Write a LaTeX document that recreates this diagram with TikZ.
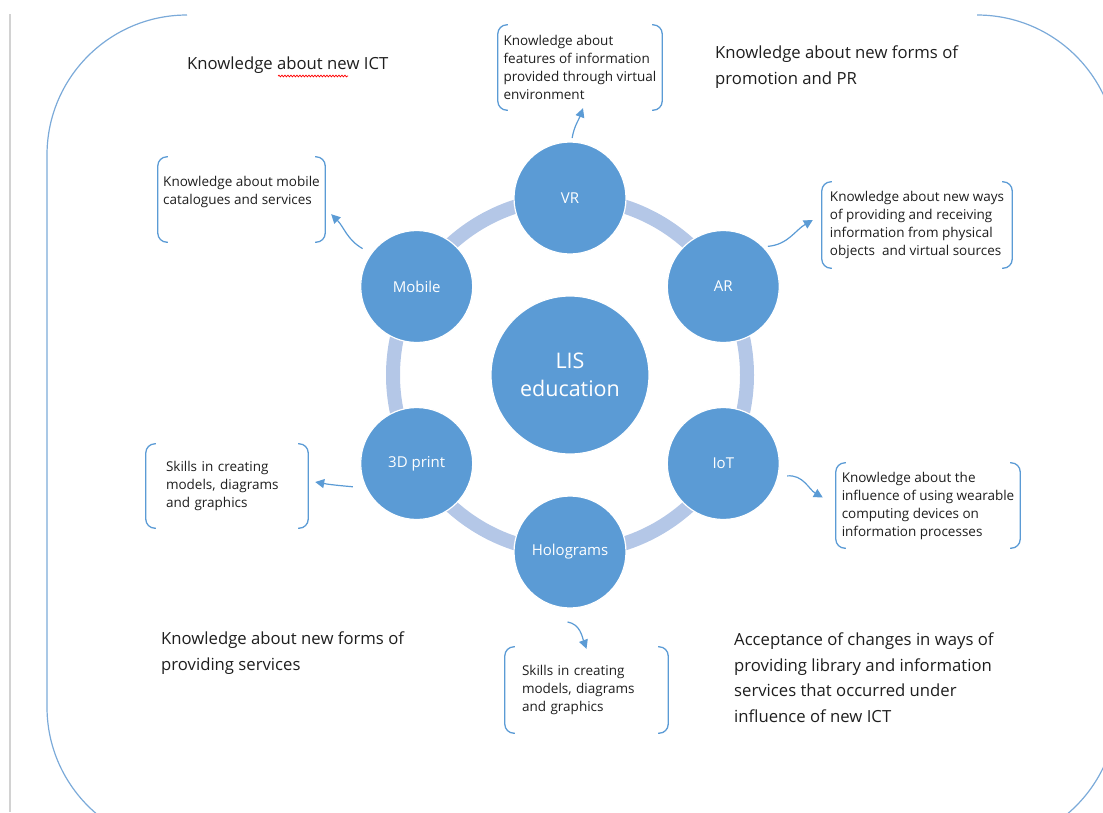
\documentclass[tikz,border=0pt]{standalone}
\usepackage{fontspec}
\setmainfont{Open Sans}
\usetikzlibrary{arrows.meta,calc,decorations.pathmorphing}
\definecolor{officeblue}{HTML}{5B9BD5}
\definecolor{ringblue}{HTML}{B4C7E7}
\definecolor{frameblue}{HTML}{7BAAD9}
\definecolor{txt}{HTML}{1E1E1E}

\begin{document}
\begin{tikzpicture}[x=1pt,y=1pt,
    hub/.style={circle,fill=officeblue,draw=white,line width=1.2pt,text=white,
      minimum size=158pt,inner sep=0pt,align=center,font=\fontsize{21.5}{28}\selectfont},
    sat/.style={circle,fill=officeblue,draw=white,line width=1.2pt,text=white,
      minimum size=112pt,inner sep=0pt,font=\fontsize{15}{18}\selectfont},
    infobox/.style={inner sep=0pt,align=left,text=txt,font=\fontsize{13.5}{18}\selectfont},
    bigtext/.style={inner sep=0pt,anchor=north west,align=left,text=txt,
      font=\fontsize{16.7}{25.5}\selectfont},
    bracket/.style={draw=officeblue,line width=1.3pt,rounded corners=9pt},
    link/.style={draw=officeblue,line width=1.2pt,-{Triangle[length=9pt,width=9pt]}}]
  \useasboundingbox (0,0) rectangle (1103,-812);
  \clip (0,0) rectangle (1103,-812);
  % page edge and frame
  \draw[gray!35,line width=1.5pt] (10,-14) -- (10,-812);
  \draw[frameblue,line width=1.2pt] (187,-15) arc[start angle=90,end angle=180,radius=140]
    -- (47,-707) arc[start angle=180,end angle=270,radius=140];
  \draw[frameblue,line width=1.2pt] (977,-15) arc[start angle=90,end angle=0,radius=140]
    -- (1117,-707) arc[start angle=0,end angle=-90,radius=140];
  % centre, ring and satellites
  \node[hub] (lis) at (570,-375) {LIS\\education};
  \draw[ringblue,line width=14pt] (lis.center) circle[radius=177];
  \foreach \a/\n/\t in {90/vr/VR,30/ar/AR,-30/iot/IoT,-90/holo/Holograms,
      -150/print/3D print,150/mobile/Mobile}
    \node[sat] (\n) at ($(lis)+(\a:177)$) {\t};
  % knowledge boxes
  \node[infobox,minimum width=164pt,minimum height=85pt] (vrinfo) at (580,-67.5)
    {Knowledge about\\features of information\\provided through virtual\\environment};
  \node[infobox,minimum width=167pt,minimum height=85pt] (mobinfo) at (241.5,-199.5)
    {Knowledge about mobile\\catalogues and services\\\mbox{}};
  \node[infobox,minimum width=190pt,minimum height=86pt] (arinfo) at (917,-225)
    {Knowledge about new ways\\of providing and receiving\\information from physical\\objects~ and virtual sources};
  \node[infobox,minimum width=162pt,minimum height=84pt,text width=122pt,inner xsep=20pt]
    (printinfo) at (227,-486) {Skills in creating\\models, diagrams\\and graphics};
  \node[infobox,minimum width=184pt,minimum height=85pt] (iotinfo) at (928,-505.5)
    {Knowledge about the\\influence of using wearable\\computing devices on\\information processes};
  \node[infobox,minimum width=163pt,minimum height=86pt,text width=129pt,inner xsep=17pt]
    (holoinfo) at (586.5,-690) {Skills in creating\\models, diagrams\\and graphics};
  \foreach \b in {vrinfo,mobinfo,arinfo,printinfo,iotinfo,holoinfo}{
    \draw[bracket] ([xshift=10pt]\b.north west) -- (\b.north west) -- (\b.south west)
      -- ([xshift=10pt]\b.south west);
    \draw[bracket] ([xshift=-10pt]\b.north east) -- (\b.north east) -- (\b.south east)
      -- ([xshift=-10pt]\b.south east);
  }
  % arrows
  \draw[link] ($(vr)+(88:60)$) to[out=80,in=-110] ([xshift=3pt,yshift=2pt]vrinfo.south);
  \draw[link] ($(mobile)+(145:66)$) to[out=150,in=-45] ([xshift=6pt,yshift=28pt]mobinfo.south east);
  \draw[link] ($(ar)+(42:60)$) to[out=5,in=210] ([xshift=-9pt,yshift=5pt]arinfo.west);
  \draw[link] ($(print)+(200:68)$) to[out=175,in=-10] ([xshift=7pt,yshift=4pt]printinfo.east);
  \draw[link] ($(iot)+(-11:65)$) to[out=5,in=150] ([xshift=-13pt,yshift=8pt]iotinfo.west);
  \draw[link] ($(holo)+(-92:70)$) to[out=-10,in=110] ([yshift=-2pt]holoinfo.north);
  % outer texts
  \node[bigtext] (ict) at (187,-57) {Knowledge about new ICT};
  \draw[red,line width=0.7pt,decorate,decoration={snake,amplitude=0.9pt,segment length=3pt}]
    (278,-76) -- (348,-76);
  \node[bigtext] (promo) at (715,-46) {Knowledge about new forms of\\promotion and PR};
  \node[bigtext] (serv) at (161,-632) {Knowledge about new forms of\\providing services};
  \node[bigtext] (accept) at (734,-633)
    {Acceptance of changes in ways of\\providing library and information\\services that occurred under\\influence of new ICT};
\end{tikzpicture}
\end{document}
